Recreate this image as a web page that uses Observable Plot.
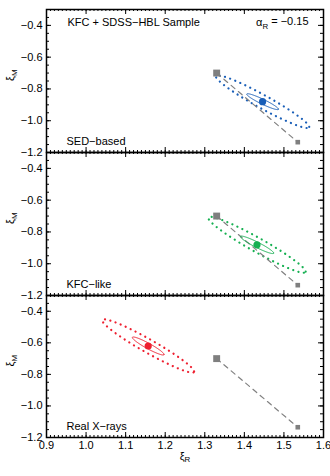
<!DOCTYPE html>
<html><head><meta charset="utf-8">
<script src="https://cdn.jsdelivr.net/npm/d3@7"></script>
<script src="https://cdn.jsdelivr.net/npm/@observablehq/plot@0.6"></script>
<style>
body{margin:0;background:#fff}
#chart svg{display:block;overflow:visible}
</style>
</head><body><div id="chart"></div>
<script>
// ---- data ----
const panelNames = ["SED−based", "KFC−like", "Real X−rays"];
const panelColors = ["#1a5fb8", "#16b052", "#ee2030"];
const centerX = [1.446, 1.432, 1.157];
const centerY = [-0.880, -0.881, -0.620];
const innerSigX = [0.040, 0.042, 0.040];
const innerSigY = [0.050, 0.055, 0.057];
const innerRho = [-0.94, -0.94, -0.94];
const outerSigX = [0.118, 0.123, 0.116];
const outerSigY = [0.166, 0.176, 0.169];
const outerRho = [-0.958, -0.958, -0.958];
const refX = [1.33, 1.535];
const refY = [-0.70, -1.135];
const refBig = [true, false];
const xTicks = [0.9, 1.0, 1.1, 1.2, 1.3, 1.4, 1.5, 1.6];
const yTicks = [-1.2, -1.0, -0.8, -0.6, -0.4];
const titleText = "KFC + SDSS−HBL Sample";
const alphaText = "α_R = −0.15";
const yLabel = "ξ_M";
const xLabel = "ξ_R";

const xMinor = d3.range(90, 161).map(v => v / 100);
const yMinor = d3.range(-120, -29, 5).map(v => v / 100);

function ellipse(cx, cy, sx, sy, rho, n = 160) {
  return d3.range(n + 1).map(k => {
    const t = 2 * Math.PI * k / n;
    return {x: cx + sx * Math.cos(t), y: cy + sy * (rho * Math.cos(t) + Math.sqrt(1 - rho * rho) * Math.sin(t))};
  });
}

function subscripts(svg) {
  d3.select(svg).selectAll("text").each(function() {
    const s = this.textContent;
    const m = s.match(/^(.*?)_(\w)(.*)$/);
    if (!m) return;
    const el = d3.select(this);
    el.selectAll("*").remove();
    el.text(null);
    el.append("tspan").text(m[1]);
    el.append("tspan").attr("font-size", "0.72em").attr("dy", "0.35em").text(m[2]);
    if (m[3]) el.append("tspan").attr("dy", "-0.35em").text(m[3]);
  });
}

const refs = refX.map((x, j) => ({x, y: refY[j], big: refBig[j]}));
const W = 330, ML = 46, MR = 7, IW = W - ML - MR;
const fmt = d => (d < 0 ? "−" : "") + Math.abs(d).toFixed(1);

function panel(i) {
  const first = i === 0, last = i === 2;
  const mt = first ? 9 : 0, mb = last ? 39 : 0;
  const ih = last ? 142 : 143;
  const H = ih + mt + mb;
  const col = panelColors[i];
  const marks = [
    Plot.line(ellipse(centerX[i], centerY[i], outerSigX[i], outerSigY[i], outerRho[i]),
      {x: "x", y: "y", stroke: col, strokeWidth: 2.2, strokeDasharray: "0.1,5.4", strokeLinecap: "round"}),
    Plot.line(refs, {x: "x", y: "y", stroke: "#808080", strokeWidth: 1.2, strokeDasharray: "5,4.5"}),
    Plot.line(ellipse(centerX[i], centerY[i], innerSigX[i], innerSigY[i], innerRho[i]),
      {x: "x", y: "y", stroke: col, strokeWidth: 1}),
    Plot.dot(refs.filter(d => d.big), {x: "x", y: "y", symbol: "square", r: 3.9, fill: "#7f7f7f"}),
    Plot.dot(refs.filter(d => !d.big), {x: "x", y: "y", symbol: "square", r: 2.6, fill: "#7f7f7f"}),
    Plot.dot([0], {x: () => centerX[i], y: () => centerY[i], r: 3.6, fill: col}),
    // inward ticks
    Plot.tickY(yTicks, {y: d => d, insetRight: IW - 5, stroke: "#000"}),
    Plot.tickY(yMinor, {y: d => d, insetRight: IW - 3, stroke: "#000"}),
    Plot.tickY(yTicks, {y: d => d, insetLeft: IW - 5, stroke: "#000"}),
    Plot.tickY(yMinor, {y: d => d, insetLeft: IW - 3, stroke: "#000"}),
    Plot.tickX(xTicks, {x: d => d, insetTop: ih - 5, stroke: "#000"}),
    Plot.tickX(xMinor, {x: d => d, insetTop: ih - 2, stroke: "#000"}),
    Plot.tickX(xTicks, {x: d => d, insetBottom: ih - 5, stroke: "#000"}),
    Plot.tickX(xMinor, {x: d => d, insetBottom: ih - 2, stroke: "#000"}),
    Plot.frame({stroke: "#000", strokeWidth: 1.5}),
    Plot.axisY({ticks: yTicks, tickSize: 0, tickPadding: 4, tickFormat: fmt, label: null, fontSize: 11}),
    Plot.text([yLabel], {text: d => d, frameAnchor: "left", dx: -36, rotate: -90, fontSize: 11}),
    Plot.text([panelNames[i]], {text: d => d, frameAnchor: "bottom-left", textAnchor: "start", lineAnchor: "middle", dx: 20, dy: -11, fontSize: 11})
  ];
  if (first) {
    marks.push(Plot.text([titleText], {text: d => d, frameAnchor: "top-left", textAnchor: "start", lineAnchor: "middle", dx: 21, dy: 13, fontSize: 11}));
    marks.push(Plot.text([alphaText], {text: d => d, frameAnchor: "top-right", textAnchor: "end", lineAnchor: "middle", dx: -15, dy: 13, fontSize: 11}));
  }
  if (last) {
    marks.push(Plot.axisX({ticks: xTicks, tickSize: 0, tickPadding: 4, tickFormat: d => d.toFixed(1), label: null, fontSize: 11}));
    marks.push(Plot.text([xLabel], {text: d => d, frameAnchor: "bottom", dy: 22, fontSize: 11}));
  }
  const svg = Plot.plot({
    width: W, height: H,
    marginLeft: ML, marginRight: MR, marginTop: mt, marginBottom: mb,
    x: {domain: [0.9, 1.6], axis: null},
    y: {domain: [-1.2, -0.3], axis: null},
    style: {fontFamily: "'Liberation Sans', Arial, Helvetica, sans-serif", fontSize: "11px", overflow: "visible", background: "transparent", color: "#000"},
    marks
  });
  subscripts(svg);
  return svg;
}

const chart = document.getElementById("chart");
for (let i = 0; i < 3; i++) chart.appendChild(panel(i));
</script>
</body></html>
